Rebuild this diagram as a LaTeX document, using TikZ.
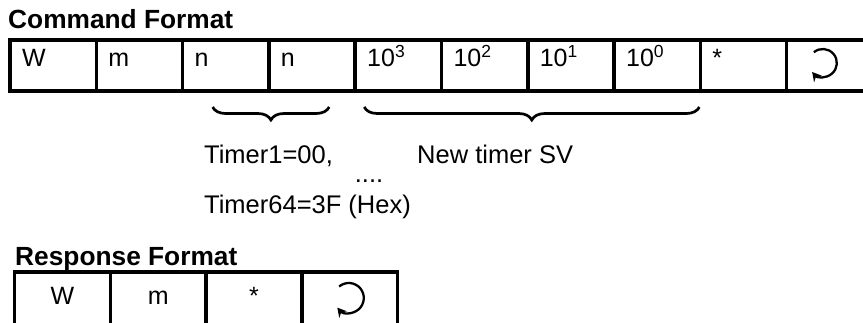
\documentclass[tikz,border=0pt]{standalone}
\usepackage{fontspec}
\setmainfont{Liberation Sans}
\usetikzlibrary{positioning,decorations.pathreplacing,arrows.meta}

\begin{document}
\begin{tikzpicture}[x=1pt, y=1pt,
    cmdcell/.style={draw, line width=3.5pt, rectangle, outer sep=0pt,
        minimum width=86.3pt, minimum height=51pt, inner xsep=12pt,
        text width=62.3pt, align=left, text height=14pt, text depth=11pt,
        font=\fontsize{25}{30}\selectfont},
    respcell/.style={draw, line width=3.5pt, rectangle, outer sep=0pt,
        minimum width=95.8pt, minimum height=57pt, align=center,
        text height=17pt, text depth=10pt, font=\fontsize{25}{30}\selectfont},
    title/.style={anchor=base west, inner sep=0pt, font=\fontsize{26.3}{30}\selectfont\bfseries},
    note/.style={anchor=base west, inner sep=0pt, font=\fontsize{25.5}{30}\selectfont},
    curlybrace/.style={decorate, decoration={brace, mirror, amplitude=13pt}, line width=2.7pt},
    retarrow/.style={line width=2.3pt, -{Stealth[length=9pt, width=10pt]}}]

    \path[use as bounding box, clip] (0,0) rectangle (863,322);

    % Command format
    \node[title] (cmdtitle) at (8,293) {Command Format};
    \foreach \lab [count=\i] in {W, m, n, n, 10\textsuperscript{3}, 10\textsuperscript{2},
        10\textsuperscript{1}, 10\textsuperscript{0}, *, {}}
        \node[cmdcell] (c\i) at ({10+(\i-0.5)*86.3}, 256.5) {\lab};
    \draw[retarrow] ([xshift=-7pt, yshift=2.5pt]c10.center) ++(130:14)
        arc[start angle=130, end angle=-140, radius=14];

    % Braces under the fields
    \draw[curlybrace] ([xshift=30pt, yshift=-16pt]c3.south west)
        -- ([xshift=-26pt, yshift=-16pt]c4.south east);
    \draw[curlybrace] ([xshift=9pt, yshift=-16pt]c5.south west)
        -- ([xshift=-1pt, yshift=-16pt]c8.south east);

    % Notes
    \node[note] (tfirst) at (204,159) {Timer1=00,};
    \node[note] (newsv) at (417,159) {New timer SV};
    \node[note, anchor=base] (dots) at (369,140) {....};
    \node[note] (tlast) at (204,109) {Timer64=3F (Hex)};

    % Response format
    \node[title] (resptitle) at (15,57) {Response Format};
    \foreach \lab [count=\i] in {W, m, *, {}}
        \node[respcell] (r\i) at ({14.5+(\i-0.5)*95.8}, 21.5) {\lab};
    \draw[retarrow] ([xshift=-1pt, yshift=2.5pt]r4.center) ++(130:15)
        arc[start angle=130, end angle=-140, radius=15];

\end{tikzpicture}
\end{document}
